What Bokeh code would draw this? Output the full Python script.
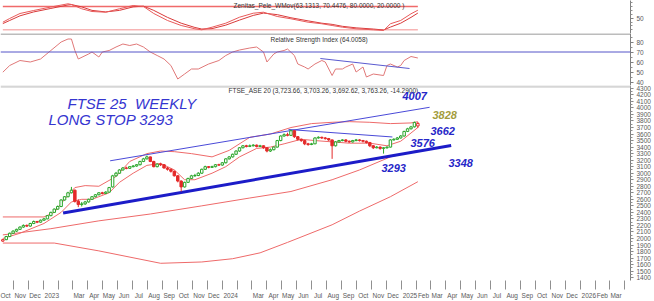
import numpy as np
import pandas as pd
from bokeh.plotting import figure
from bokeh.layouts import column
from bokeh.models import FixedTicker, Span, Label, Range1d
from bokeh.embed import file_html
from bokeh.resources import INLINE

# ---------------- data ----------------
first_week = "2022-10-10"
prev_close_start = 2000

opens = [1960, 1982, 2030, 2080, 2113, 2140, 2175, 2200, 2190, 2230,
         2260, 2250, 2280, 2300, 2350, 2400, 2450, 2490, 2590, 2640,
         2700, 2740, 2570, 2520, 2530, 2560, 2600, 2640, 2670, 2700,
         2690, 2710, 2790, 2960, 3000, 3050, 3080, 3075, 3100, 3110,
         3130, 3180, 3220, 3250, 3180, 3100, 3140, 3130, 3080, 3060,
         3030, 2960, 2880, 2790, 2860, 2920, 2960, 2965, 3000, 3060,
         3100, 3090, 3100, 3130, 3125, 3160, 3220, 3250, 3290, 3340,
         3390, 3420, 3410, 3420, 3430, 3410, 3420, 3390, 3340, 3360,
         3400, 3500, 3570, 3590, 3580, 3650, 3560, 3520, 3500, 3450,
         3440, 3450, 3540, 3550, 3540, 3530, 3510, 3420, 3480, 3500,
         3510, 3490, 3480, 3500, 3510, 3500, 3490, 3470, 3420, 3390,
         3400, 3380, 3390, 3400, 3510, 3520, 3540, 3570, 3640, 3680,
         3710, 3723.66]
highs = [1995, 2040, 2090, 2125, 2150, 2185, 2215, 2215, 2240, 2275,
         2270, 2290, 2315, 2360, 2410, 2460, 2505, 2600, 2650, 2715,
         2790, 2750, 2600, 2560, 2575, 2610, 2650, 2680, 2710, 2715,
         2725, 2790, 2975, 3020, 3060, 3095, 3100, 3110, 3125, 3140,
         3190, 3235, 3270, 3255, 3190, 3150, 3160, 3140, 3095, 3070,
         3040, 2970, 2890, 2870, 2930, 2975, 2990, 3015, 3070, 3115,
         3110, 3115, 3140, 3145, 3170, 3230, 3260, 3300, 3350, 3400,
         3430, 3435, 3440, 3445, 3440, 3435, 3425, 3395, 3380, 3410,
         3510, 3580, 3610, 3620, 3665, 3655, 3570, 3530, 3510, 3465,
         3465, 3550, 3565, 3560, 3555, 3540, 3515, 3490, 3510, 3520,
         3520, 3500, 3510, 3525, 3520, 3510, 3500, 3480, 3430, 3415,
         3410, 3400, 3410, 3520, 3535, 3555, 3585, 3650, 3695, 3725,
         3790, 3785]
lows = [1950, 1975, 2020, 2070, 2100, 2130, 2165, 2175, 2180, 2220,
        2235, 2240, 2270, 2295, 2340, 2390, 2440, 2480, 2580, 2630,
        2690, 2550, 2480, 2490, 2515, 2550, 2590, 2630, 2660, 2675,
        2680, 2700, 2780, 2945, 2990, 3040, 3060, 3065, 3090, 3100,
        3120, 3170, 3210, 3170, 3090, 3090, 3110, 3070, 3040, 3010,
        2950, 2860, 2720, 2780, 2850, 2910, 2945, 2955, 2990, 3050,
        3075, 3080, 3090, 3110, 3115, 3150, 3210, 3240, 3280, 3330,
        3380, 3395, 3400, 3410, 3395, 3400, 3375, 3320, 3325, 3350,
        3395, 3490, 3560, 3565, 3570, 3540, 3500, 3480, 3430, 3420,
        3430, 3445, 3530, 3525, 3515, 3495, 3220, 3410, 3470, 3490,
        3475, 3465, 3470, 3490, 3485, 3470, 3455, 3400, 3370, 3380,
        3360, 3300, 3375, 3395, 3500, 3510, 3530, 3560, 3630, 3670,
        3700, 3692.62]
closes = [1982, 2030, 2080, 2113, 2140, 2175, 2200, 2190, 2230, 2260,
          2250, 2280, 2300, 2350, 2400, 2450, 2490, 2590, 2640, 2700,
          2740, 2570, 2520, 2530, 2560, 2600, 2640, 2670, 2700, 2690,
          2710, 2780, 2960, 3000, 3050, 3080, 3075, 3100, 3110, 3130,
          3180, 3220, 3250, 3180, 3100, 3140, 3130, 3080, 3060, 3030,
          2960, 2880, 2790, 2860, 2920, 2960, 2965, 3000, 3060, 3100,
          3090, 3100, 3130, 3125, 3160, 3220, 3250, 3290, 3340, 3390,
          3420, 3410, 3420, 3430, 3410, 3420, 3390, 3340, 3360, 3400,
          3500, 3570, 3590, 3580, 3650, 3560, 3520, 3500, 3450, 3440,
          3450, 3540, 3550, 3540, 3530, 3510, 3420, 3480, 3500, 3510,
          3490, 3480, 3500, 3510, 3500, 3490, 3470, 3420, 3390, 3400,
          3380, 3390, 3400, 3510, 3520, 3540, 3570, 3640, 3680, 3710,
          3778, 3763.26]

# upper band, short MA, slow line, lowest curve (week index -> value)
ub_weeks = [0, 5, 12, 15, 18, 21, 24, 28, 33, 37, 42, 46, 50, 55, 61, 66, 72, 78, 84, 90, 96, 101, 107, 113, 119, 121]
ub_vals = [2330, 2330, 2330, 2400, 2600, 2780, 2810, 2800, 2950, 3180, 3300, 3340, 3330, 3300, 3250, 3350, 3550, 3600, 3700, 3760, 3780, 3790, 3780, 3760, 3770, 3790]
ma_weeks = [0, 5, 12, 17, 20, 23, 26, 28, 31, 34, 38, 42, 46, 50, 53, 56, 61, 65, 69, 74, 78, 82, 87, 91, 96, 101, 107, 112, 116, 121]
ma_vals = [2000, 2080, 2230, 2400, 2560, 2600, 2600, 2640, 2700, 2860, 3000, 3120, 3150, 3050, 2900, 2900, 3000, 3100, 3250, 3380, 3400, 3450, 3520, 3500, 3480, 3460, 3460, 3420, 3490, 3700]
c_weeks = [0, 14, 28, 43, 58, 72, 84, 96, 104, 113, 121]
c_vals = [2055, 2150, 2270, 2375, 2500, 2620, 2720, 2900, 3050, 3250, 3350]
d_weeks = [0, 15, 28, 46, 58, 67, 75, 83, 96, 104, 113, 121]
d_vals = [1930, 1930, 1810, 1620, 1640, 1690, 1780, 1940, 2210, 2420, 2640, 2870]

# trend lines (date, value)
support_line = [("2023-02-10", 2390), ("2025-04-12", 3425)]
channel_line = [("2023-05-17", 3190), ("2025-02-27", 4010)]
desc_line = [("2024-05-15", 3670), ("2024-12-13", 3555)]
rsi_desc_line = [("2024-07-19", 63.5), ("2025-01-17", 53.5)]

# oscillator
osc_weeks = [0, 2, 5, 9, 14, 19, 20, 23, 26, 30, 34, 38, 41, 44, 48, 52, 56, 58, 61, 65, 69, 73, 76, 80, 84, 89, 93, 96, 99, 103, 108, 111, 113, 116, 119, 121]
osc_fast = [39.6, 49.1, 62, 69.7, 78.7, 87, 85.2, 74.1, 67.1, 65.3, 74.1, 82.6, 80, 62, 44, 31.1, 22.6, 20, 26.7, 37, 52.4, 62.7, 65.3, 54.3, 48.3, 39.6, 35.5, 31.1, 26.7, 22.6, 20, 18.2, 35.5, 44, 61.2, 70.45]
osc_slow = [36, 44, 56, 66, 75, 84, 85, 79, 70, 66, 70, 79, 81, 70, 52, 37, 26, 22, 23, 32, 45, 57, 63, 59, 51, 43, 37, 34, 29, 25, 22, 19.5, 27, 37, 52, 63.13]
osc_levels = [80, 20]

# RSI
rsi_weeks = [0, 2, 5, 8, 11, 14, 17, 19, 20, 21, 22, 25, 26, 28, 29, 31, 33, 35, 37, 39, 41, 43, 45, 47, 49, 51, 53, 55, 57, 60, 63, 65, 67, 69, 72, 74, 76, 77, 79, 80, 82, 83, 85, 86, 88, 89, 91, 93, 94, 96, 97, 99, 100, 102, 103, 105, 106, 108, 111, 112, 113, 115, 116, 117, 119, 121]
rsi_vals = [49.8, 56.5, 61.5, 60, 63, 71.5, 80, 83, 83, 71.5, 63, 68, 70, 65, 70, 71.5, 75, 78, 76.5, 78, 75, 70, 66.5, 63, 56.5, 43, 48, 53, 53, 58, 61.5, 66.5, 70, 72, 74, 75, 70, 60, 68, 70, 71.5, 73, 66.5, 58, 55, 53, 58, 61.5, 60, 46.5, 53, 53, 55, 58, 50, 55, 45, 48, 46.5, 56.5, 58, 55, 56.5, 61.5, 65.5, 64]
rsi_level = 70

# axis labels
month_ticks = ["2022-10-01", "2022-11-01", "2022-12-01", "2023-01-01", "2023-03-01", "2023-04-01",
               "2023-05-01", "2023-06-01", "2023-07-01", "2023-08-01", "2023-09-01", "2023-10-01",
               "2023-11-01", "2023-12-01", "2024-01-01", "2024-03-01", "2024-04-01", "2024-05-01",
               "2024-06-01", "2024-07-01", "2024-08-01", "2024-09-01", "2024-10-01", "2024-11-01",
               "2024-12-01", "2025-01-01", "2025-02-01", "2025-03-01", "2025-04-01", "2025-05-01",
               "2025-06-01", "2025-07-01", "2025-08-01", "2025-09-01", "2025-10-01", "2025-11-01",
               "2025-12-01", "2026-01-01", "2026-02-01", "2026-03-01"]
month_labels = ["Oct", "Nov", "Dec", "2023", "Mar", "Apr", "May", "Jun", "Jul", "Aug", "Sep", "Oct",
                "Nov", "Dec", "2024", "Mar", "Apr", "May", "Jun", "Jul", "Aug", "Sep", "Oct", "Nov",
                "Dec", "2025", "Feb", "Mar", "Apr", "May", "Jun", "Jul", "Aug", "Sep", "Oct", "Nov",
                "Dec", "2026", "Feb", "Mar"]
all_month_starts = list(pd.date_range("2022-11-01", "2026-04-01", freq="MS").strftime("%Y-%m-%d"))
price_ticks = list(range(1400, 4301, 100))
rsi_ticks = [40, 50, 60, 70, 80]
osc_ticks = [50]

title_osc = "Zenitas_Pele_WMov(63.1313, 70.4476, 80.0000, 20.0000 )"
title_rsi = "Relative Strength Index (64.0058)"
title_main = "FTSE_ASE 20 (3,723.66, 3,703.26, 3,692.62, 3,763.26, -14.2900)"
note1 = "FTSE 25\u00a0 WEEKLY"
note2 = "LONG STOP 3293"
levels = [("4007", "#2626c8"), ("3828", "#a39c3c"), ("3662", "#2626c8"),
          ("3576", "#2626c8"), ("3293", "#2626c8"), ("3348", "#2626c8")]

# ---------------- helpers ----------------
EPOCH = pd.Timestamp("2023-01-01")
PX_PER_DAY = 3.43 / 7.0
X0_PX = 43.0  # pixel of EPOCH


def day(d):
    return (pd.Timestamp(d) - EPOCH).total_seconds() / 86400.0


def wk(w):
    return day(first_week) + 7.0 * np.asarray(w, dtype=float)


def px2day(x):
    return (x - X0_PX) / PX_PER_DAY


xr = Range1d(px2day(0), px2day(630))

W = 654
FONT = "Liberation Sans"
AX_COL = "#5a5a5a"
RED_LINE = "#ee6a6a"


def style_right_axis(p, ticks, minor):
    ax = p.yaxis[0]
    ax.ticker = FixedTicker(ticks=ticks, minor_ticks=minor)
    ax.major_label_text_font_size = "6.5px"
    ax.major_label_text_font = FONT
    ax.major_label_text_color = AX_COL
    ax.axis_line_color = "#808080"
    ax.major_tick_line_color = "#808080"
    ax.minor_tick_line_color = "#909090"
    ax.major_tick_out = 3
    ax.major_tick_in = 0
    ax.minor_tick_out = 2
    ax.minor_tick_in = 0
    ax.major_label_standoff = 3


def base(height, yr, bottom=0, xaxis=False):
    p = figure(width=W, height=height, x_range=xr, y_range=yr,
               y_axis_location="right",
               x_axis_location="below" if xaxis else None,
               toolbar_location=None, output_backend="svg",
               min_border_left=0, min_border_right=24,
               min_border_top=0, min_border_bottom=bottom)
    p.grid.visible = False
    p.outline_line_color = None
    p.background_fill_color = "white"
    p.border_fill_color = "white"
    return p


# ---------------- top oscillator ----------------
p1 = base(33, Range1d(10.47, 95.45))
style_right_axis(p1, osc_ticks, [20, 30, 40, 60, 70, 80, 90])
p1.segment(x0=wk(0), x1=wk(121), y0=osc_levels[0], y1=osc_levels[0], line_color="#f06a6a", line_width=1.6)
p1.segment(x0=wk(0), x1=wk(121), y0=osc_levels[1], y1=osc_levels[1], line_color="#f7b4b4", line_width=1.6)
p1.line(wk(osc_weeks), osc_slow, line_color="#d93a3a", line_width=1)
p1.line(wk(osc_weeks), osc_fast, line_color="#e85a5a", line_width=1)
p1.add_layout(Label(x=px2day(233), y=82.6, text=title_osc, text_font=FONT,
                    text_font_size="6.5px", text_color="#333333", text_baseline="middle"))

# ---------------- RSI ----------------
p2 = base(52, Range1d(36.5, 88.5))
style_right_axis(p2, rsi_ticks, [45, 55, 65, 75, 85])
p2.add_layout(Span(location=88.0, dimension="width", line_color="#7a7a7a", line_width=1))
p2.add_layout(Span(location=rsi_level, dimension="width", line_color="#5555c8", line_width=1))
p2.line(wk(rsi_weeks), rsi_vals, line_color="#e07878", line_width=1)
p2.line([day(d) for d, v in rsi_desc_line], [v for d, v in rsi_desc_line], line_color="#5a5ad0", line_width=1)
p2.add_layout(Label(x=px2day(270), y=83.0, text=title_rsi, text_font=FONT,
                    text_font_size="6.5px", text_color="#333333", text_baseline="middle"))

# ---------------- main price ----------------
ytop, ybot = 4343.7, 1356.3
PX_PER_PT = 205.0 / (ytop - ybot)


def py(ypx):
    return ytop - (ypx - 85) / PX_PER_PT


p3 = base(216, Range1d(ybot, ytop), bottom=11, xaxis=True)
style_right_axis(p3, price_ticks, list(range(1350, 4351, 50)))
p3.add_layout(Span(location=py(86.0), dimension="width", line_color="#d6d6d6", line_width=2.5))

# x axis ticks: label centred just right of the month start tick
centers = []
overrides = {}
for d, lab in zip(month_ticks, month_labels):
    c = round(day(d) + (len(lab) * 3.4 / 2 + 1.5) / PX_PER_DAY, 3)
    centers.append(c)
    overrides[c] = lab
xa = p3.xaxis[0]
xa.ticker = FixedTicker(ticks=centers, minor_ticks=[day(d) for d in all_month_starts])
xa.major_label_overrides = overrides
xa.major_label_text_font_size = "6.5px"
xa.major_label_text_font = FONT
xa.major_label_text_color = AX_COL
xa.major_tick_out = 0
xa.major_tick_in = 0
xa.minor_tick_out = 9
xa.minor_tick_in = 0
xa.minor_tick_line_color = "#909090"
xa.axis_line_color = None
xa.major_label_standoff = 2

# indicator lines
p3.line(wk(d_weeks), d_vals, line_color=RED_LINE, line_width=1)
p3.line(wk(c_weeks), c_vals, line_color=RED_LINE, line_width=1)
p3.line(wk(ub_weeks), ub_vals, line_color=RED_LINE, line_width=1)
p3.line(wk(ma_weeks), ma_vals, line_color=RED_LINE, line_width=1)

# trend lines
for seg, lw, col in [(channel_line, 1, "#4a4ad8"), (desc_line, 1, "#4a4ad8"), (support_line, 3, "#1c1cc8")]:
    p3.line([day(d) for d, v in seg], [v for d, v in seg], line_color=col, line_width=lw)

# candles
O = np.array(opens, float)
C = np.array(closes, float)
H = np.array(highs, float)
L = np.array(lows, float)
prevC = np.r_[prev_close_start, C[:-1]]
GREEN, RED = "#2aa62a", "#e42a2a"
col = np.where(C >= prevC, GREEN, RED)
fill = np.where(C > O, "white", col)
x = wk(np.arange(len(C)))
p3.segment(x0=x, x1=x, y0=L, y1=H, line_color=list(col), line_width=1)
p3.vbar(x=x, width=5.0, top=np.maximum(O, C), bottom=np.minimum(O, C),
        fill_color=list(fill), line_color=list(col), line_width=1)

# texts
p3.add_layout(Label(x=px2day(228), y=py(90), text=title_main, text_font=FONT,
                    text_font_size="6.5px", text_color="#333333", text_baseline="middle"))
for txt, xp, yp in [(note1, 67, 104), (note2, 48, 120.5)]:
    p3.add_layout(Label(x=px2day(xp), y=py(yp), text=txt, text_font=FONT,
                        text_font_size="15px", text_font_style="italic",
                        text_color="#3535d0", text_baseline="middle"))
level_pos = [(402, 96), (432, 116.5), (430, 132.5), (410, 145.5), (381, 172), (448, 166)]
for (txt, c), (xp, yp) in zip(levels, level_pos):
    p3.add_layout(Label(x=px2day(xp), y=py(yp), text=txt, text_font=FONT,
                        text_font_size="11px", text_font_style="bold italic",
                        text_color=c, text_baseline="middle"))

layout = column(p1, p2, p3, spacing=0)
open("out.html", "w").write(file_html(layout, INLINE))
